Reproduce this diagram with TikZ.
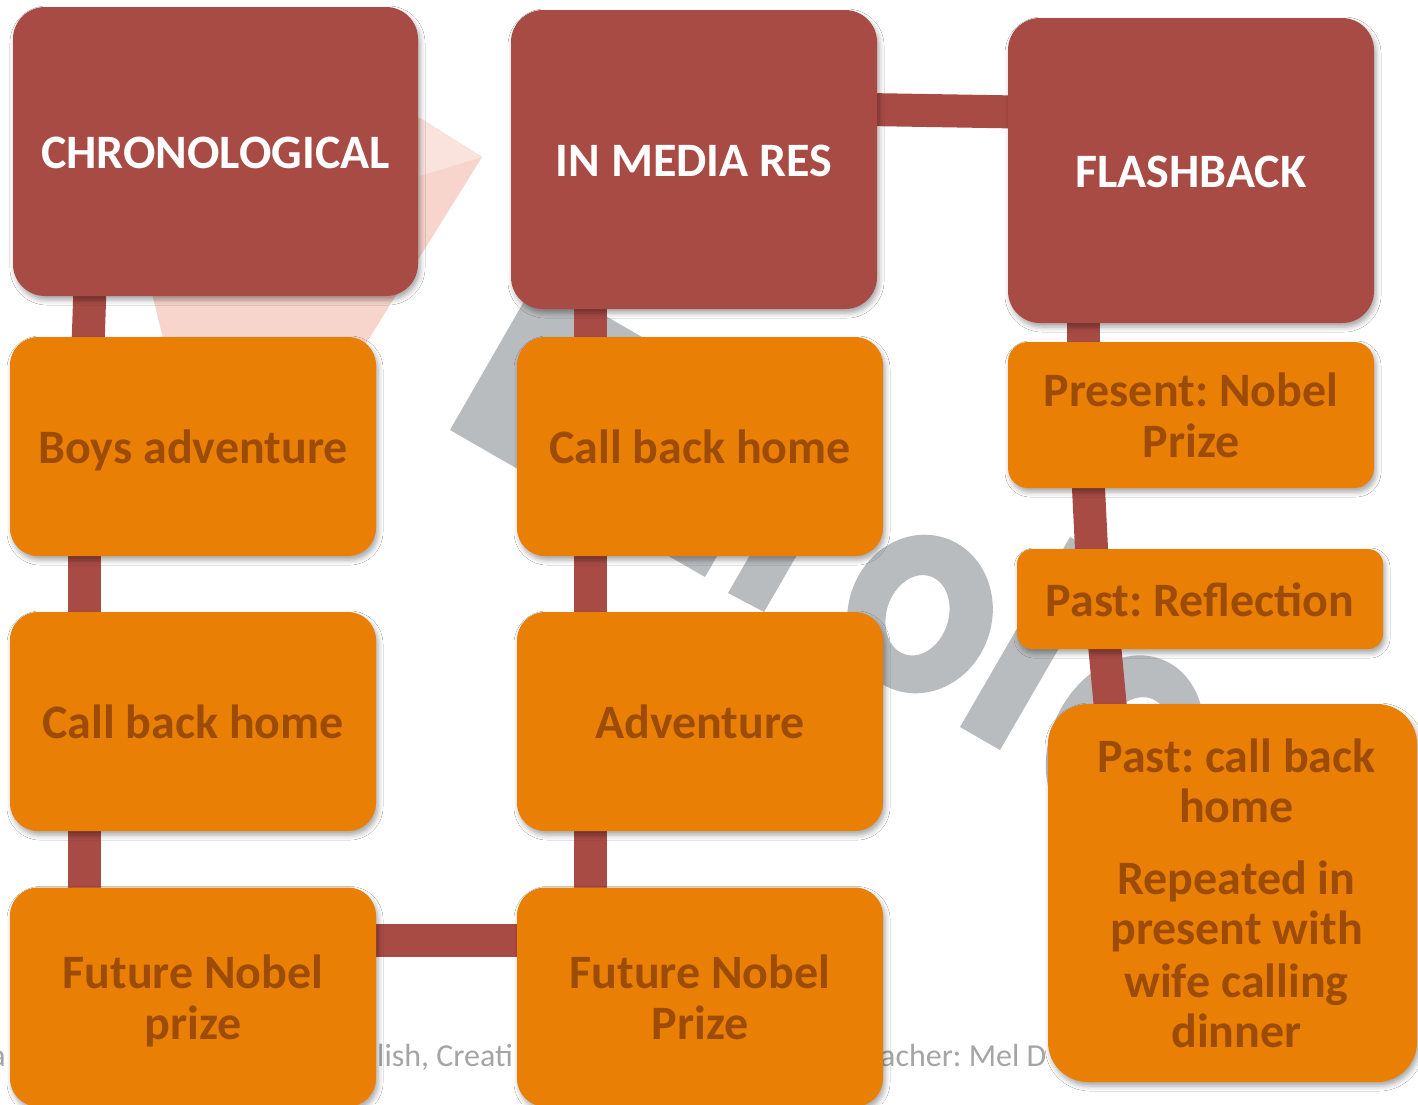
\documentclass[tikz,border=0pt]{standalone}
\usepackage{fontspec}
\setmainfont{Carlito}
\usetikzlibrary{shadows.blur}
\definecolor{boxred}{RGB}{168,75,69}
\definecolor{boxorange}{RGB}{234,127,5}
\definecolor{txtbrown}{RGB}{156,76,6}
\definecolor{wmgray}{RGB}{185,188,191}
\definecolor{wmpink}{RGB}{247,212,204}
\definecolor{wmpinklight}{RGB}{250,226,221}
\definecolor{footgray}{RGB}{165,165,165}
\pgfdeclarelayer{wm}
\pgfdeclarelayer{bars}
\pgfsetlayers{wm,bars,main}
\frenchspacing
\begin{document}
\begin{tikzpicture}[x=1pt,y=-1pt,
  box/.style={rectangle, rounded corners=#1, inner sep=0pt, align=center,
    font=\fontsize{48}{51}\selectfont\bfseries,
    blur shadow={shadow xshift=2pt, shadow yshift=-4pt, shadow blur radius=5pt, shadow opacity=35}},
  redbox/.style={box=#1, fill=boxred, text=white},
  orbox/.style={box=#1, fill=boxorange, text=txtbrown},
  oneline/.style={text height=40pt, text depth=6pt},
  bar/.style={draw=boxred, line width=33pt},
  foot/.style={inner sep=0pt, text=footgray, font=\fontsize{32}{38}\selectfont},
]
\useasboundingbox (0,0) rectangle (1418,1104);

% ---------- boxes ----------
\node[redbox=32pt, oneline, minimum width=405pt, minimum height=289pt] (chron) at (215.5,151.5) {CHRONOLOGICAL};
\node[redbox=32pt, oneline, minimum width=366pt, minimum height=299pt] (imr) at (694,159.5) {IN MEDIA RES};
\node[redbox=32pt, oneline, minimum width=366pt, minimum height=305pt] (flash) at (1191,170.5) {FLASHBACK};

\node[orbox=28pt, oneline, minimum width=366pt, minimum height=219pt] (boys) at (193,446.5) {Boys adventure};
\node[orbox=28pt, oneline, minimum width=366pt, minimum height=219pt] (cbh1) at (193,721.5) {Call back home};
\node[orbox=28pt, minimum width=366pt, minimum height=219pt] (fnp1) at (193,997) {Future Nobel\\\raisebox{0pt}[\height][0pt]{prize}};

\node[orbox=28pt, oneline, minimum width=366pt, minimum height=219pt] (cbh2) at (700,446.5) {Call back home};
\node[orbox=28pt, oneline, minimum width=366pt, minimum height=219pt] (adv) at (700,721.5) {Adventure};
\node[orbox=28pt, minimum width=366pt, minimum height=219pt] (fnp2) at (700,997) {Future Nobel\\Prize};

\node[orbox=20pt, minimum width=366pt, minimum height=146pt] (present) at (1191,415) {Present: Nobel\\Prize};
\node[orbox=15pt, oneline, minimum width=366pt, minimum height=100pt] (refl) at (1200,599) {Past: Reflection};
\node[orbox=40pt, minimum width=369pt, minimum height=378pt, font=\fontsize{48}{50}\selectfont\bfseries] (pastcall) at (1232.5,893)
  {\hspace*{8pt}Past: call back\\\hspace*{8pt}home\\[22pt]\hspace*{8pt}Repeated in\\\hspace*{8pt}present with\\[3pt]\hspace*{8pt}wife calling\\\hspace*{8pt}dinner};

% ---------- connectors ----------
\begin{pgfonlayer}{bars}
\draw[bar] ([xshift=-125.5pt,yshift=10pt]chron.south) -- ([xshift=-105pt,yshift=-10pt]boys.north);
\draw[bar] ([xshift=-109pt,yshift=10pt]boys.south) -- ([xshift=-109pt,yshift=-10pt]cbh1.north);
\draw[bar] ([xshift=-109pt,yshift=10pt]cbh1.south) -- ([xshift=-109pt,yshift=-10pt]fnp1.north);
\draw[bar] ([xshift=-104pt,yshift=10pt]imr.south) -- ([xshift=-110pt,yshift=-10pt]cbh2.north);
\draw[bar] ([xshift=-110pt,yshift=10pt]cbh2.south) -- ([xshift=-110pt,yshift=-10pt]adv.north);
\draw[bar] ([xshift=-110pt,yshift=10pt]adv.south) -- ([xshift=-110pt,yshift=-10pt]fnp2.north);
\draw[bar] ([xshift=-10pt,yshift=50pt]imr.east) -- ([xshift=10pt,yshift=58.5pt]flash.west);
\draw[bar] ([xshift=-10pt,yshift=57pt]fnp1.east) -- ([xshift=10pt,yshift=57pt]fnp2.west);
\draw[bar] ([xshift=-108pt,yshift=10pt]flash.south) -- ([xshift=-108pt,yshift=-10pt]present.north);
\draw[bar] ([xshift=-103pt,yshift=10pt]present.south) -- ([xshift=-108pt,yshift=-10pt]refl.north);
\draw[bar] ([xshift=-96pt,yshift=10pt]refl.south) -- ([xshift=-121.5pt,yshift=-10pt]pastcall.north);
\end{pgfonlayer}

% ---------- watermark ----------
\begin{pgfonlayer}{wm}
\fill[white] (0,0) rectangle (1418,1104);
\fill[wmpink] (104,100) -- (420,118) -- (482,157) -- (362,350) -- (166,350) -- cycle;
\fill[wmpinklight] (420,118) -- (482,157) -- (420,176) -- cycle;
\fill[wmgray] (450,430) -- (705,577) -- (793,424) -- (538,277) -- cycle;
\fill[wmgray] (728,593) -- (764,612) -- (864,439) -- (828,420) -- cycle;
\fill[wmgray] (960,727) -- (1000,750) -- (1110,560) -- (1070,537) -- cycle;
\begin{scope}[rotate around={-18:(920,614)}]
\fill[wmgray, even odd rule] (920,614) ellipse [x radius=72pt, y radius=80pt]
  (918,616) ellipse [x radius=31pt, y radius=41pt];
\end{scope}
\begin{scope}[rotate around={-25:(1125,748)}]
\fill[wmgray, even odd rule] (1125,748) ellipse [x radius=75pt, y radius=96pt]
  (1130,750) ellipse [x radius=36pt, y radius=58pt];
\end{scope}
\node[foot, anchor=base east] (f0) at (6,1066) {a};
\node[foot, anchor=base west] (f1) at (377,1066) {lish, Creati};
\node[foot, anchor=base west] (f2) at (880,1066) {acher: Mel D};
\end{pgfonlayer}
\end{tikzpicture}
\end{document}
